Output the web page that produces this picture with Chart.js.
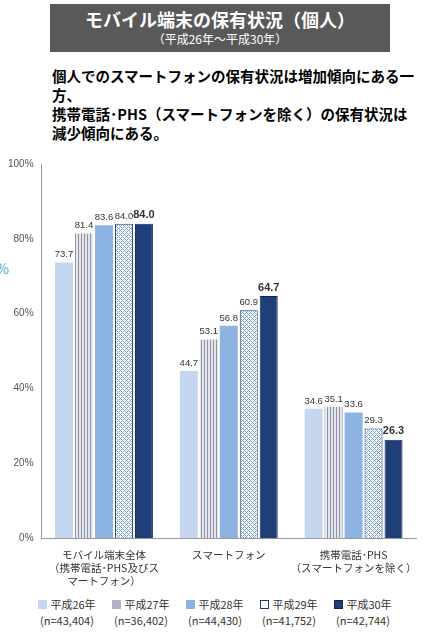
<!DOCTYPE html>
<html><head><meta charset="utf-8">
<script src="https://cdn.jsdelivr.net/npm/chart.js@4"></script>
<style>
body{margin:0;width:428px;height:640px;background:#fff;font-family:"Noto Sans CJK JP",sans-serif;position:relative;overflow:hidden}
#hdr{position:absolute;left:50px;top:4px;width:340px;height:48px;background:#595959;color:#fff;text-align:center}
#hdr .t{font-size:18px;font-weight:bold;line-height:24px;margin-top:3px}
#hdr .s{font-size:12px;line-height:16px}
#desc{position:absolute;left:52px;top:66px;font-size:14.5px;font-weight:bold;line-height:19px;color:#000}
#wrap{position:absolute;left:0;top:150px;width:428px;height:440px}
#leg{position:absolute;left:30px;top:596px;width:398px;display:flex;font-size:11px;color:#333}
#leg div{width:74px;text-align:center;line-height:16px}
#leg span{display:inline-block;width:7px;height:7px;margin-right:3px}
#pct{position:absolute;left:-4px;top:258px;color:#3ab0c8;font-size:14px}
</style></head><body>
<div id="hdr"><div class="t">モバイル端末の保有状況（個人）</div><div class="s">（平成26年～平成30年）</div></div>
<div id="desc">個人でのスマートフォンの保有状況は増加傾向にある一方、<br>携帯電話･PHS（スマートフォンを除く）の保有状況は<br>減少傾向にある。</div>
<div id="pct">%</div>
<div id="wrap"><canvas id="c"></canvas></div>
<div id="leg"></div>
<script>
const categories=[["モバイル端末全体","（携帯電話･PHS及びス","マートフォン）"],"スマートフォン",["携帯電話･PHS","（スマートフォンを除く）"]];
const seriesNames=["平成26年","平成27年","平成28年","平成29年","平成30年"];
const seriesN=["(n=43,404)","(n=36,402)","(n=44,430)","(n=41,752)","(n=42,744)"];
const h26=[73.7,44.7,34.6];
const h27=[81.4,53.1,35.1];
const h28=[83.6,56.8,33.6];
const h29=[84.0,60.9,29.3];
const h30=[84.0,64.7,26.3];
const yTicks=[0,20,40,60,80,100];

function pat(type){
  const c=document.createElement('canvas');const g=c.getContext('2d');
  if(type==='v'){c.width=3;c.height=3;g.fillStyle='#e4e6ee';g.fillRect(0,0,3,3);g.fillStyle='#8f93a3';g.fillRect(0,0,1,3);}
  else{c.width=4;c.height=4;g.fillStyle='#ffffff';g.fillRect(0,0,4,4);g.fillStyle='#7ba8d8';g.fillRect(0,0,1,1);g.fillRect(2,2,1,1);g.fillRect(1,1,1,1);g.fillRect(3,3,1,1);g.fillRect(3,1,1,1);g.fillRect(1,3,1,1);}
  return document.createElement('canvas').getContext('2d').createPattern(c,'repeat');
}
const fills=['#c5d7ee',pat('v'),'#8db3e2',pat('x'),'#1f3f78'];
const borders=['#c5d7ee','#b0b4c2','#8db3e2','#1f3f78','#0f2550'];
const legSw=['#c5d7ee','#b0b4c2','#8db3e2','#ffffff','#1f3f78'];
const data=[h26,h27,h28,h29,h30];
document.getElementById('leg').innerHTML=seriesNames.map((s,i)=>`<div><span style="background:${legSw[i]};border:1px solid ${borders[i]}"></span>${s}<br>${seriesN[i]}</div>`).join('');
const labelPlugin={id:'lbl',afterDatasetsDraw(ch){const g=ch.ctx;g.save();g.textAlign='center';g.textBaseline='bottom';
 ch.data.datasets.forEach((d,i)=>{ch.getDatasetMeta(i).data.forEach((b,j)=>{g.font=(i===4?'bold 11px':'9.5px')+' Liberation Sans, Arial';g.fillStyle='#333';g.fillText(d.data[j].toFixed(1),b.x,b.y-3);});});g.restore();}};
new Chart(document.getElementById('c'),{type:'bar',
 data:{labels:categories,datasets:data.map((d,i)=>({label:seriesNames[i],data:d,backgroundColor:fills[i],borderColor:borders[i],borderWidth:i>=3?1:0}))},
 options:{responsive:true,maintainAspectRatio:false,animation:false,
  layout:{padding:{top:8,right:12,left:0}},
  plugins:{legend:{display:false},tooltip:{enabled:false}},
  scales:{
   x:{grid:{display:false},border:{color:'#999'},ticks:{color:'#333',font:{size:10.5,family:'Noto Sans CJK JP'},maxRotation:0,autoSkip:false},categoryPercentage:0.86,barPercentage:0.98},
   y:{min:0,max:100,afterBuildTicks:a=>{a.ticks=yTicks.map(v=>({value:v}));},grid:{display:false,drawTicks:false},border:{color:'#999'},ticks:{padding:8,color:'#555',font:{size:10,family:'Liberation Sans'},callback:v=>v+'%'}}
  }},plugins:[labelPlugin]});
</script></body></html>
